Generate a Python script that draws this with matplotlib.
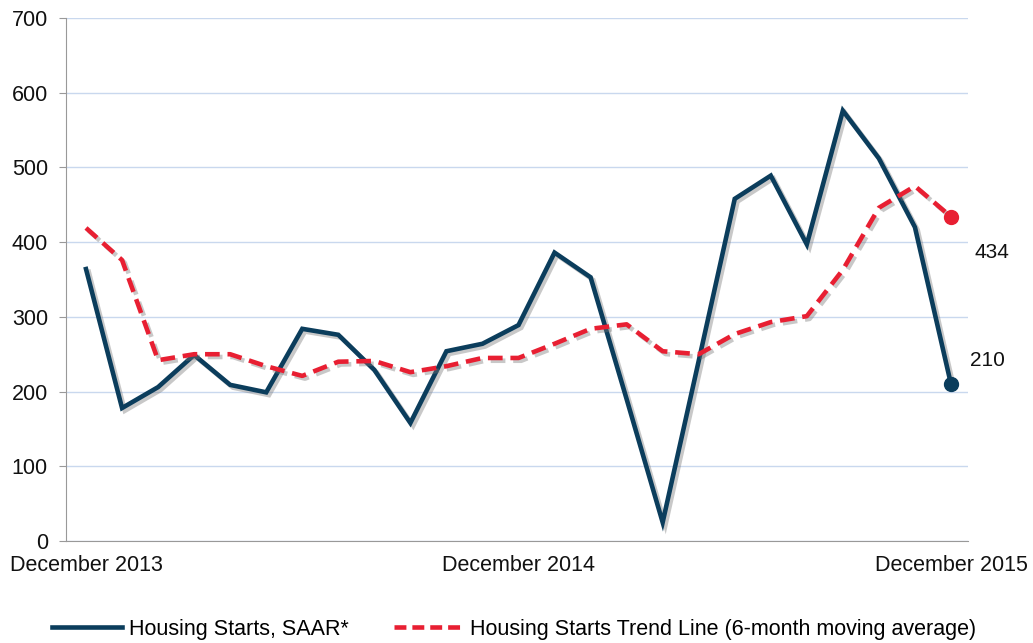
import matplotlib.pyplot as plt
import matplotlib.patheffects as pe

plt.rcParams['font.family'] = ['Liberation Sans', 'DejaVu Sans']

# monthly values, Dec 2013 .. Dec 2015
starts = [364, 178, 206, 249, 209, 199, 284, 276, 229, 158, 254, 264, 289,
          386, 353, 190, 25, 241, 458, 489, 397, 576, 512, 420, 210]
trend = [419, 376, 242, 250, 250, 234, 221, 240, 241, 226, 234, 245, 245,
         264, 284, 290, 254, 250, 277, 293, 301, 363, 446, 475, 434]
tick_pos = [0, 12, 24]
tick_labels = ["December 2013", "December 2014", "December 2015"]
yticks = [0, 100, 200, 300, 400, 500, 600, 700]

navy = "#0b3d5c"
red = "#e81f32"
shadow = [pe.SimpleLineShadow(offset=(2, -2), shadow_color="#777777", alpha=0.4),
          pe.Normal()]

fig = plt.figure(figsize=(10.33, 6.43), dpi=100)
ax = fig.add_axes([0.0639, 0.1586, 0.8731, 0.8134])

x = list(range(len(starts)))
ax.plot(x, starts, color=navy, lw=3.3, solid_joinstyle="miter",
        label="Housing Starts, SAAR*", path_effects=shadow, zorder=3)
ax.plot(x, trend, color=red, lw=3.3, dashes=(3.2, 1.7),
        label="Housing Starts Trend Line (6-month moving average)",
        path_effects=shadow, zorder=3)
ax.plot(x[-1], starts[-1], "o", color=navy, ms=10, zorder=4)
ax.plot(x[-1], trend[-1], "o", color=red, ms=10, zorder=4)

ax.annotate(str(trend[-1]), (x[-1], trend[-1]), xytext=(17, -30),
            textcoords="offset points", fontsize=15, color="#111111")
ax.annotate(str(starts[-1]), (x[-1], starts[-1]), xytext=(14, 13),
            textcoords="offset points", fontsize=15, color="#111111")

ax.set_xlim(-0.555, 24.47)
ax.set_ylim(0, 700)
ax.set_yticks(yticks)
ax.set_xticks(tick_pos)
ax.set_xticklabels(tick_labels)
ax.tick_params(axis="both", labelsize=15.5, colors="#111111", length=0)
ax.tick_params(axis="y", length=5, direction="out", color="#999999", pad=8)
ax.tick_params(axis="x", pad=10)
ax.grid(axis="y", color="#c9d8ee", lw=1)
ax.set_axisbelow(True)
for s in ["top", "right"]:
    ax.spines[s].set_visible(False)
ax.spines["left"].set_color("#999999")
ax.spines["bottom"].set_color("#999999")

leg = fig.legend(loc="lower center", ncol=2, frameon=False, fontsize=15.5,
                 bbox_to_anchor=(0.498, -0.025), handlelength=3.25,
                 handletextpad=0.3, columnspacing=2.1)
for ln in leg.get_lines():
    ln.set_path_effects([])
leg.get_lines()[1].set_dashes((2.6, 1.3))

fig.savefig("out.png", dpi=100)
